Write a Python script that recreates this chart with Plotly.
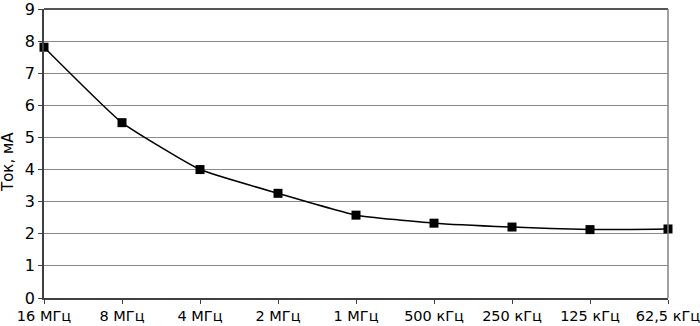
import plotly.graph_objects as go

categories = ["16 МГц", "8 МГц", "4 МГц", "2 МГц", "1 МГц", "500 кГц", "250 кГц", "125 кГц", "62,5 кГц"]
current_ma = [7.81, 5.46, 4.0, 3.26, 2.58, 2.33, 2.21, 2.13, 2.15]
y_ticks = list(range(0, 10))
y_title = "Ток, мА"

font_family = "DejaVu Sans"

fig = go.Figure()
fig.add_trace(go.Scatter(
    x=list(range(len(categories))), y=current_ma,
    mode="lines+markers",
    line=dict(color="black", width=1.5, shape="spline", smoothing=0.4),
    marker=dict(symbol="square", size=9, color="black"),
    cliponaxis=False,
))

fig.update_layout(
    width=700, height=326,
    margin=dict(l=44, r=32, t=9, b=28),
    paper_bgcolor="white", plot_bgcolor="white",
    showlegend=False,
    font=dict(family=font_family, size=15, color="black"),
    xaxis=dict(
        range=[0, len(categories) - 1],
        tickmode="array", tickvals=list(range(len(categories))), ticktext=categories,
        showgrid=False, zeroline=False,
        showline=True, linecolor="#404040", linewidth=1.5,
        ticks="outside", ticklen=4, tickcolor="#404040",
        automargin=False, ticklabeloverflow="allow",
        tickfont=dict(size=14.5),
    ),
    yaxis=dict(
        range=[0, 9],
        tickmode="array", tickvals=y_ticks,
        showgrid=True, gridcolor="#8a8a8a", gridwidth=1,
        zeroline=False,
        showline=True, linecolor="#404040", linewidth=1.5,
        ticks="outside", ticklen=4, tickcolor="#404040",
        automargin=False, ticklabeloverflow="allow",
        tickfont=dict(size=16),
    ),
    shapes=[
        dict(type="line", xref="paper", yref="paper", x0=0, x1=1, y0=1, y1=1,
             line=dict(color="#555555", width=2)),
        dict(type="line", xref="paper", yref="paper", x0=1, x1=1, y0=0, y1=1,
             line=dict(color="#808080", width=1.5)),
    ],
    annotations=[
        dict(text=y_title, xref="paper", yref="paper", x=-0.058, y=0.47,
             xanchor="center", yanchor="middle", textangle=-90, showarrow=False,
             font=dict(family=font_family, size=15, color="black")),
    ],
)

fig.write_html("out.html")
